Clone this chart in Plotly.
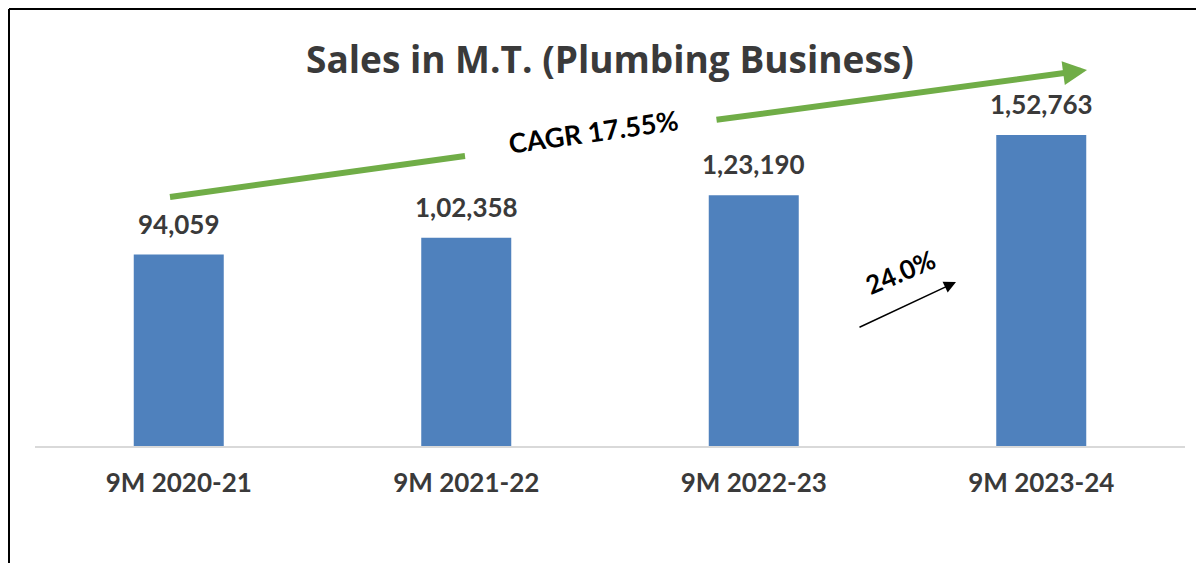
import plotly.graph_objects as go

categories = ["9M 2020-21", "9M 2021-22", "9M 2022-23", "9M 2023-24"]
sales_mt = [94059, 102358, 123190, 152763]
title_text = "Sales in M.T. (Plumbing Business)"
cagr_text = "CAGR 17.55%"
yoy_text = "24.0%"


def indian_format(n):
    s = str(int(n))
    if len(s) <= 3:
        return s
    last3 = s[-3:]
    rest = s[:-3]
    parts = []
    while len(rest) > 2:
        parts.insert(0, rest[-2:])
        rest = rest[:-2]
    if rest:
        parts.insert(0, rest)
    return ",".join(parts) + "," + last3


# page has an 8px body margin; figure is sized to fit the window
OFF = 8
W, H = 1204 - OFF, 563 - OFF
L, R, T, B = 27, 19, 92, 117
PW, PH = W - L - R, H - T - B


def px(x):  # page pixel -> paper
    return (x - OFF - L) / PW


def py(y):  # page pixel -> paper
    return (H - B - (y - OFF)) / PH


FONT = "Lato"
DARK = "#3A3A3A"

fig = go.Figure()
fig.add_trace(go.Bar(
    x=categories, y=sales_mt,
    marker=dict(color="#4F81BD", line=dict(width=0)),
    hoverinfo="skip",
))

annotations = []
for c, v in zip(categories, sales_mt):
    annotations.append(dict(
        x=c, y=v, xref="x", yref="y", text="<b>%s</b>" % indian_format(v),
        showarrow=False, yanchor="middle", yshift=31,
        font=dict(family=FONT, size=26, color=DARK),
    ))

# title
annotations.append(dict(
    x=px(610), y=py(58), xref="paper", yref="paper",
    text="<b>%s</b>" % title_text, showarrow=False,
    xanchor="center", yanchor="middle",
    font=dict(family="Open Sans", size=37, color=DARK),
))
# green CAGR arrow (second segment)
annotations.append(dict(
    x=px(1087), y=py(70), xref="paper", yref="paper", text="",
    showarrow=True, ax=715 - 1087, ay=120 - 70,
    arrowhead=2, arrowsize=0.8, arrowwidth=6, arrowcolor="#70AD47",
    standoff=0, startstandoff=0,
))
annotations.append(dict(
    x=px(593), y=py(131), xref="paper", yref="paper",
    text="<b>%s</b>" % cagr_text, showarrow=False, textangle=-8,
    xanchor="center", yanchor="middle",
    font=dict(family=FONT, size=27, color="#000000"),
))
# black growth arrow
annotations.append(dict(
    x=px(956), y=py(282), xref="paper", yref="paper", text="",
    showarrow=True, ax=858 - 956, ay=328 - 282,
    arrowhead=2, arrowsize=1.6, arrowwidth=1.5, arrowcolor="#000000",
    standoff=0, startstandoff=0,
))
annotations.append(dict(
    x=px(900), y=py(272), xref="paper", yref="paper",
    text="<b>%s</b>" % yoy_text, showarrow=False, textangle=-23,
    xanchor="center", yanchor="middle",
    font=dict(family=FONT, size=26, color="#000000"),
))

shapes = [
    # green CAGR line first segment
    dict(type="line", xref="paper", yref="paper",
         x0=px(170), y0=py(197), x1=px(465), y1=py(156),
         line=dict(color="#70AD47", width=6)),
    # frame border (left and top)
    dict(type="line", xref="paper", yref="paper",
         x0=px(9), y0=py(9), x1=px(1204), y1=py(9),
         line=dict(color="#000000", width=2)),
    dict(type="line", xref="paper", yref="paper",
         x0=px(9), y0=py(9), x1=px(9), y1=py(563),
         line=dict(color="#000000", width=2)),
]

fig.update_layout(
    width=W, height=H,
    margin=dict(l=L, r=R, t=T, b=B),
    paper_bgcolor="white", plot_bgcolor="white",
    showlegend=False,
    bargap=1 - 90 / (PW / 4),
    annotations=annotations,
    shapes=shapes,
    xaxis=dict(
        showline=True, linecolor="#D9D9D9", linewidth=2,
        showgrid=False, ticks="", ticklabelstandoff=13,
        tickfont=dict(family=FONT, size=26, color=DARK),
        tickprefix="<b>", ticksuffix="</b>",
    ),
    yaxis=dict(range=[0, 170000], visible=False, showgrid=False, zeroline=False),
)

fig.write_html("out.html")
